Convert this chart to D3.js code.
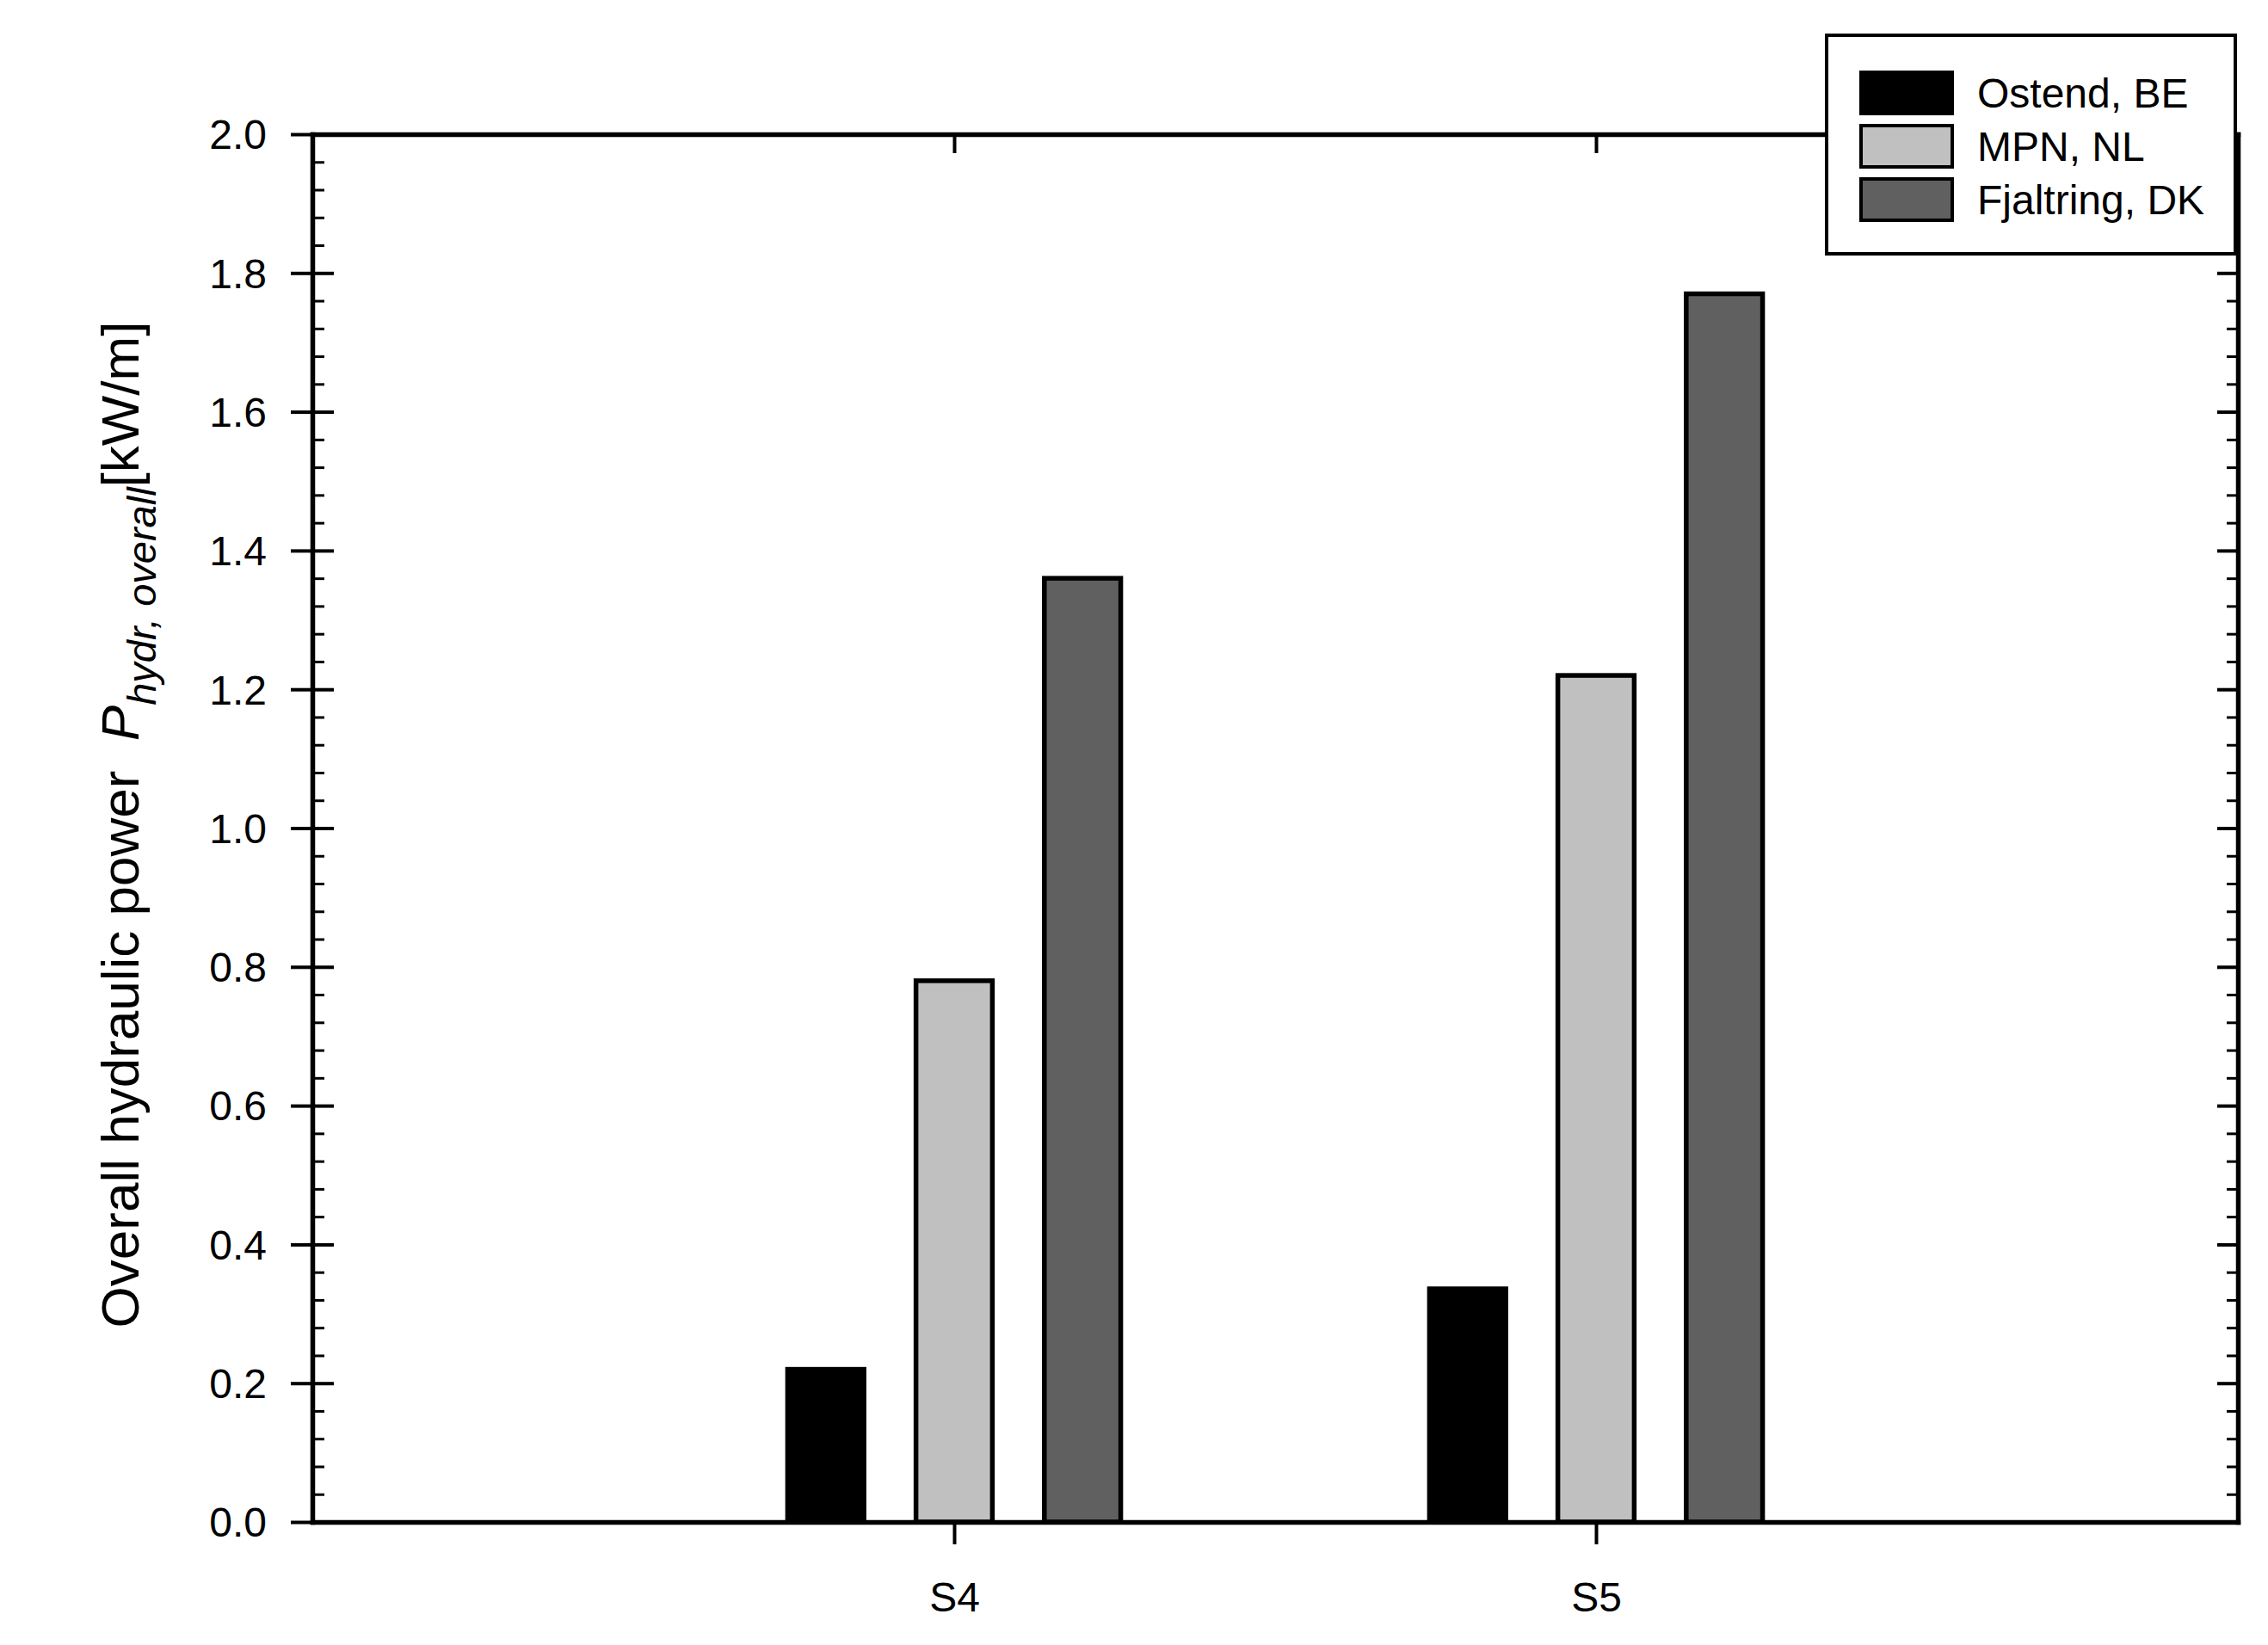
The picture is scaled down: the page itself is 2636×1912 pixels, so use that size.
<!DOCTYPE html>
<html>
<head>
<meta charset="utf-8">
<script src="https://cdn.jsdelivr.net/npm/d3@7"></script>
<style>
  html, body { margin: 0; padding: 0; background: #fff; }
  svg { display: block; }
  text { font-family: "Liberation Sans", Arial, Helvetica, sans-serif; fill: #000; }
</style>
</head>
<body>
<svg id="chart" width="2636" height="1912"></svg>
<script>
// ---- data ----
const categories = ["S4", "S5"];
const seriesNames = ["Ostend, BE", "MPN, NL", "Fjaltring, DK"];
const seriesColors = ["#000000", "#c0c0c0", "#606060"];
const ostend = [0.220, 0.336];
const mpn = [0.780, 1.220];
const fjaltring = [1.360, 1.770];
const seriesValues = [ostend, mpn, fjaltring];
const yMajorTicks = [0.0, 0.2, 0.4, 0.6, 0.8, 1.0, 1.2, 1.4, 1.6, 1.8, 2.0];
const yMinorTicks = d3.range(0, 2.0001, 0.04).filter(v => Math.abs(Math.round(v / 0.2) * 0.2 - v) > 1e-6);

(function () {
// ---- layout ----
const svg = d3.select("#chart");
const L = 363, R = 2601, T = 156, B = 1769;
const FONT = "\"Liberation Sans\", Arial, Helvetica, sans-serif";

const x = d3.scaleLinear().domain([0, 3]).range([L, R]);
const y = d3.scaleLinear().domain([0, 2]).range([B, T]);
const catPos = categories.map((c, i) => i + 1);
const barOffset = [-0.2, 0, 0.2];
const barWidth = 0.119;

// ---- bars ----
const barsG = svg.append("g");
seriesValues.forEach((vals, si) => {
  barsG.selectAll(null)
    .data(vals)
    .enter()
    .append("rect")
    .attr("x", (d, i) => x(catPos[i] + barOffset[si] - barWidth / 2))
    .attr("width", x(barWidth) - x(0))
    .attr("y", d => y(d))
    .attr("height", d => y(0) - y(d))
    .attr("fill", seriesColors[si])
    .attr("stroke", "#000")
    .attr("stroke-width", 5.5);
});

// ---- axes ----
function styleAxis(g, w) {
  g.selectAll(".domain").attr("stroke", "#000").attr("stroke-width", 5.5).attr("stroke-linecap", "square");
  g.selectAll(".tick line").attr("stroke", "#000").attr("stroke-width", w);
}

const leftOut = svg.append("g").attr("transform", `translate(${L},0)`)
  .call(d3.axisLeft(y).tickValues(yMajorTicks).tickSizeInner(25).tickSizeOuter(0).tickPadding(28).tickFormat(d3.format(".1f")));
styleAxis(leftOut, 4);
leftOut.selectAll("text").attr("font-size", 48).attr("font-family", FONT).attr("dy", "0.35em");
const leftIn = svg.append("g").attr("transform", `translate(${L},0)`)
  .call(d3.axisRight(y).tickValues(yMajorTicks).tickSize(25).tickFormat(""));
styleAxis(leftIn, 4);
leftIn.select(".domain").remove();
const leftMinor = svg.append("g").attr("transform", `translate(${L},0)`)
  .call(d3.axisRight(y).tickValues(yMinorTicks).tickSize(14).tickFormat(""));
styleAxis(leftMinor, 3);
leftMinor.select(".domain").remove();

const rightMaj = svg.append("g").attr("transform", `translate(${R},0)`)
  .call(d3.axisLeft(y).tickValues(yMajorTicks).tickSize(24).tickSizeOuter(0).tickFormat(""));
styleAxis(rightMaj, 4);
const rightMin = svg.append("g").attr("transform", `translate(${R},0)`)
  .call(d3.axisLeft(y).tickValues(yMinorTicks).tickSize(13).tickFormat(""));
styleAxis(rightMin, 3);
rightMin.select(".domain").remove();

const bottomAx = svg.append("g").attr("transform", `translate(0,${B})`)
  .call(d3.axisBottom(x).tickValues(catPos).tickSize(26).tickSizeOuter(0).tickFormat((d, i) => categories[i]));
styleAxis(bottomAx, 4);
bottomAx.selectAll("text").attr("font-size", 48).attr("font-family", FONT).attr("y", 104).attr("dy", 0);

const topAx = svg.append("g").attr("transform", `translate(0,${T})`)
  .call(d3.axisBottom(x).tickValues(catPos).tickSize(22).tickSizeOuter(0).tickFormat(""));
styleAxis(topAx, 4);

// ---- y title ----
const title = svg.append("text")
  .attr("transform", `translate(161,${(T + B) / 2 - 4}) rotate(-90)`)
  .attr("text-anchor", "middle")
  .attr("font-size", 62)
  .attr("font-family", FONT);
title.append("tspan").text("Overall hydraulic power\u00a0\u00a0");
title.append("tspan").attr("font-style", "italic").text("P");
title.append("tspan").attr("font-style", "italic").attr("font-size", 47).attr("dy", 20).text("hydr, overall");
title.append("tspan").attr("dy", -20).text("[kW/m]");

// ---- legend ----
const lg = svg.append("g");
lg.append("rect")
  .attr("x", 2123).attr("y", 41).attr("width", 475).attr("height", 254)
  .attr("fill", "#fff").attr("stroke", "#000").attr("stroke-width", 4);
const rows = lg.selectAll(".row").data(seriesNames).enter().append("g")
  .attr("transform", (d, i) => `translate(2163,${84 + i * 62})`);
rows.append("rect")
  .attr("width", 106).attr("height", 48)
  .attr("fill", (d, i) => seriesColors[i])
  .attr("stroke", "#000").attr("stroke-width", 4);
rows.append("text")
  .attr("x", 135).attr("y", 24).attr("dy", "0.35em")
  .attr("font-size", 48).attr("font-family", FONT)
  .text(d => d);
})();
</script>
</body>
</html>
